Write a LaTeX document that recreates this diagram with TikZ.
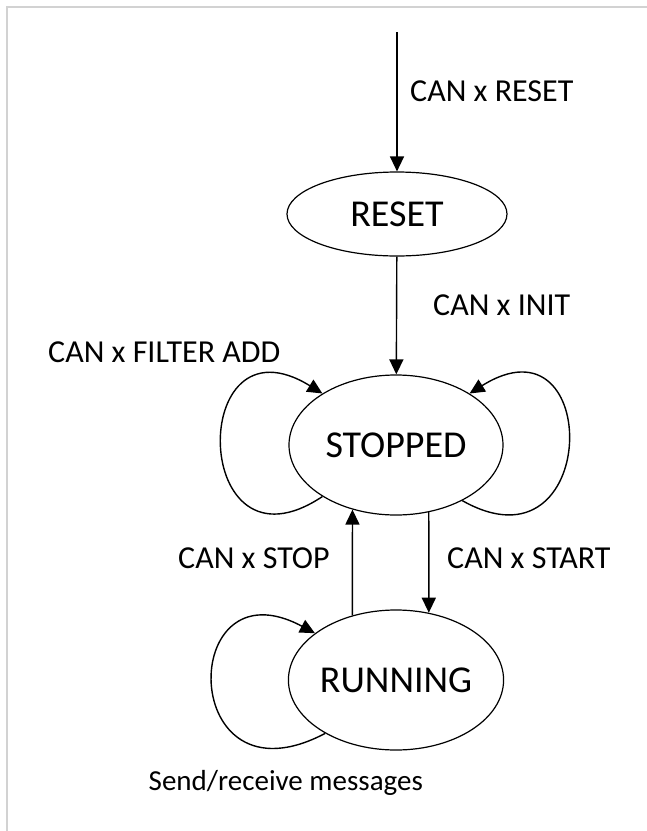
\documentclass[tikz,border=0pt]{standalone}
\usepackage{fontspec}
\setmainfont{Carlito}
\usepackage{tikz}
\usetikzlibrary{arrows.meta, shapes.geometric}

\begin{document}
\begin{tikzpicture}[x=1pt, y=-1pt,
    state/.style={draw, ellipse, line width=1.2pt, inner sep=0pt, font=\fontsize{38}{44}\selectfont},
    lbl/.style={anchor=base west, inner sep=0pt, font=\fontsize{32}{38}\selectfont},
    tr/.style={line width=1.4pt, -{Triangle[length=15pt, width=14pt]}}]
        \useasboundingbox (0,0) rectangle (647,831);
        %枠
        \draw[gray!35, line width=1.5pt] (7,831) -- (7,7) -- (647,7);

        %状態
        \node[state, minimum width=220pt, minimum height=84pt] (reset) at (397,214) {RESET};
        \node[state, minimum width=214pt, minimum height=140pt] (stopped) at (396,445) {STOPPED};
        \node[state, minimum width=214pt, minimum height=140pt] (running) at (396,680) {RUNNING};
        \coordinate (entry) at (397,32);

        %遷移
        \draw[tr] (entry) -- (reset);
        \draw[tr] (reset) -- (stopped);
        \draw[tr] (stopped.296) -- (running.64);
        \draw[tr] (running.124) -- (stopped.236);

        %ループ
        \draw[tr] (stopped.215) .. controls +(-132,88) and +(-136,-84) .. (stopped.145);
        \draw[tr] (stopped.320) .. controls +(138,78) and +(134,-84) .. (stopped.35);
        \draw[tr] (running.217) .. controls +(-148,78) and +(-138,-74) .. (running.150);

        %ラベル
        \node[lbl] (lreset) at (410,101) {CAN x RESET};
        \node[lbl] (linit) at (433,315) {CAN x INIT};
        \node[lbl] (lfilter) at (48,362) {CAN x FILTER ADD};
        \node[lbl] (lstop) at (178,568) {CAN x STOP};
        \node[lbl] (lstart) at (447,568) {CAN x START};
        \node[lbl, anchor=base east, font=\fontsize{29}{35}\selectfont] (lmsg) at (423,790) {Send/receive messages};
    \end{tikzpicture}
\end{document}
